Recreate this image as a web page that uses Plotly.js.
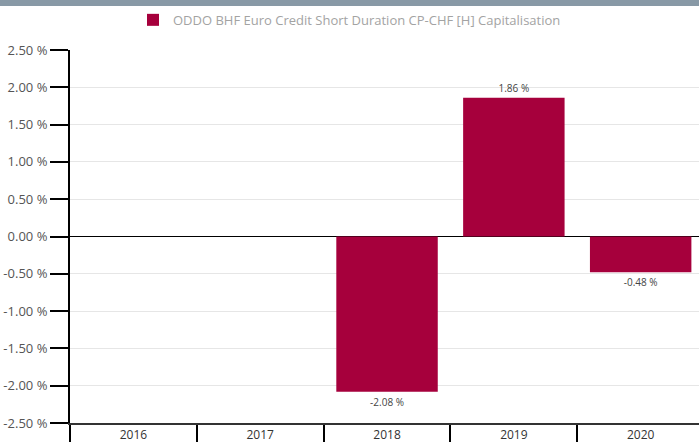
<!DOCTYPE html>
<html><head><meta charset="utf-8">
<script src="https://cdn.plot.ly/plotly-3.0.1.min.js"></script>
<style>html,body{margin:0;padding:0;background:#fff;}#chart{width:699px;height:442px;}</style>
</head><body><div id="chart"></div>
<script>
var years = ['2016', '2017', '2018', '2019', '2020'];
var returns = [null, null, -2.08, 1.86, -0.48];
var seriesName = 'ODDO BHF Euro Credit Short Duration CP-CHF [H] Capitalisation';
var yTickVals = [-2.5, -2, -1.5, -1, -0.5, 0, 0.5, 1, 1.5, 2, 2.5];
var yTickLabels = ['-2.50 %', '-2.00 %', '-1.50 %', '-1.00 %', '-0.50 %', '0.00 %', '0.50 %', '1.00 %', '1.50 %', '2.00 %', '2.50 %'];

var labels = returns.map(function(v){ return v === null ? '' : v.toFixed(2) + ' %'; });

var trace = {
  type: 'bar', x: years, y: returns, name: seriesName,
  marker: {color: '#a6003c'},
  width: 0.8,
  text: labels, textposition: 'outside', cliponaxis: false,
  textfont: {family: 'Open Sans, sans-serif', size: 10, color: '#444'},
  hoverinfo: 'none'
};

var layout = {
  width: 699, height: 442,
  margin: {l: 70, r: 0, t: 50, b: 19, autoexpand: false},
  paper_bgcolor: '#fff', plot_bgcolor: '#fff',
  showlegend: true,
  legend: {orientation: 'h', x: 0.5, xanchor: 'center', xref: 'container', y: 0.955, yanchor: 'middle', yref: 'container',
    bgcolor: 'rgba(0,0,0,0)',
    font: {family: 'Open Sans, sans-serif', size: 13, color: '#a3a3a3'}},
  xaxis: {
    type: 'category', range: [-0.5, 4.46], fixedrange: true, automargin: false,
    showgrid: false, zeroline: false,
    showline: true, linecolor: '#333', linewidth: 2,
    tickson: 'boundaries', ticks: 'outside', ticklen: 19, tickwidth: 2, tickcolor: '#000',
    tickfont: {family: 'Open Sans, sans-serif', size: 12, color: '#333'}
  },
  yaxis: {
    range: [-2.5, 2.5], fixedrange: true, automargin: false,
    tickvals: yTickVals, ticktext: yTickLabels,
    showgrid: true, gridcolor: '#e6e6e6', gridwidth: 1,
    zeroline: true, zerolinecolor: '#000', zerolinewidth: 1,
    showline: true, linecolor: '#000', linewidth: 2,
    ticks: 'outside', ticklen: 18, tickwidth: 2, tickcolor: '#000',
    tickfont: {family: 'Open Sans, sans-serif', size: 13, color: '#555'}
  },
  shapes: [{type: 'rect', xref: 'paper', yref: 'paper', x0: -0.2, x1: 1.1, y0: 1.118, y1: 1.2,
    fillcolor: '#8899a6', line: {width: 0}, layer: 'above'}]
};

Plotly.newPlot('chart', [trace], layout, {displayModeBar: false, staticPlot: true});
</script></body></html>
